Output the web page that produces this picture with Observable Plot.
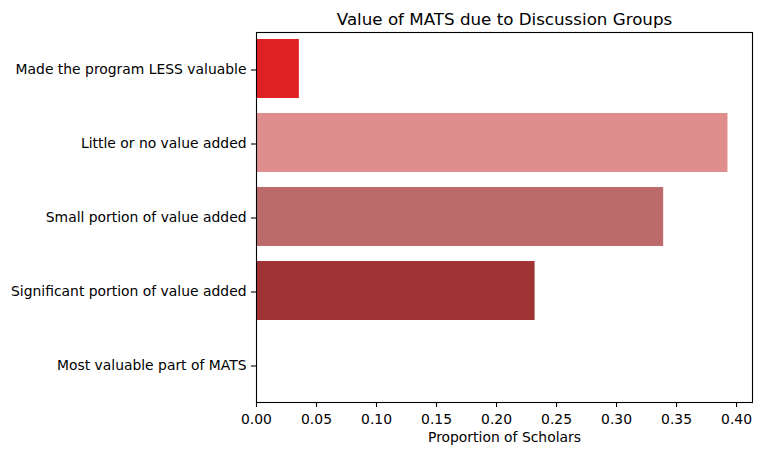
<!DOCTYPE html>
<html>
<head>
<meta charset="utf-8">
<script src="https://cdn.jsdelivr.net/npm/d3@7"></script>
<script src="https://cdn.jsdelivr.net/npm/@observablehq/plot@0.6"></script>
<style>
  html, body { margin: 0; padding: 0; background: #fff; }
  svg { display: block; }
</style>
</head>
<body>
<div id="chart"></div>
<script>
const categories = [
  "Made the program LESS valuable",
  "Little or no value added",
  "Small portion of value added",
  "Significant portion of value added",
  "Most valuable part of MATS"
];
const values = [2/56, 22/56, 19/56, 13/56, 0];
const colors = ["#e02124", "#e08d8d", "#bd6a6a", "#a03434", "#8b1a1a"];
const xTicks = [0, 0.05, 0.10, 0.15, 0.20, 0.25, 0.30, 0.35, 0.40];
const title = "Value of MATS due to Discussion Groups";
const xLabel = "Proportion of Scholars";

const data = categories.map((c, i) => ({category: c, value: values[i], color: colors[i]}));

const chart = Plot.plot({
  width: 762,
  height: 455,
  marginTop: 32,
  marginBottom: 53,
  marginLeft: 256,
  marginRight: 10,
  style: {fontFamily: "DejaVu Sans", fontSize: "13.9px", color: "black", background: "white"},
  x: {domain: [0, 0.4133]},
  y: {domain: categories, paddingInner: 0.2, paddingOuter: 0.1},
  marks: [
    Plot.barX(data, {x: "value", y: "category", fill: "color"}),
    Plot.frame({stroke: "black", strokeWidth: 1.1}),
    Plot.axisX({ticks: xTicks, tickFormat: d3.format(".2f"), tickSize: 5, tickPadding: 7, strokeWidth: 1.1, label: null}),
    Plot.axisY({tickSize: 5, tickPadding: 5, strokeWidth: 1.1, label: null, dy: 1}),
    Plot.text([title], {frameAnchor: "top", lineAnchor: "bottom", dy: -8, fontSize: 16.7, text: d => d}),
    Plot.text([xLabel], {frameAnchor: "bottom", lineAnchor: "bottom", dy: 39, fontSize: 13.9, text: d => d})
  ]
});
document.getElementById("chart").appendChild(chart);
</script>
</body>
</html>
